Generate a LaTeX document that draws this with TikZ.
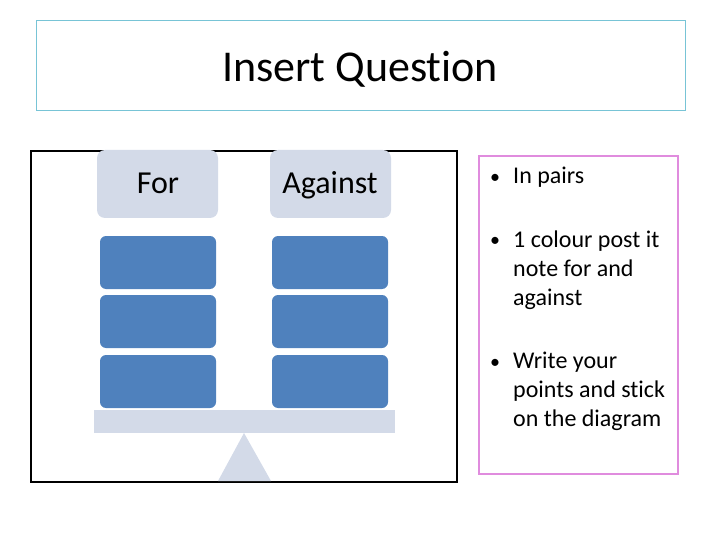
\documentclass[tikz,border=0pt]{standalone}
\usepackage{fontspec}
\setmainfont[Ligatures=NoCommon]{Carlito}
\definecolor{titleline}{RGB}{120,196,214}
\definecolor{panegray}{RGB}{211,218,232}
\definecolor{noteblue}{RGB}{79,129,189}
\definecolor{pinkline}{RGB}{224,140,222}
\tikzset{
  header/.style = {fill = panegray, rounded corners = 8pt},
  note/.style = {fill = noteblue, rounded corners = 6pt},
  point/.style = {anchor = base west, align = left, inner sep = 0pt, font = \fontsize{24}{29}\selectfont},
  dot/.style = {anchor = base west, inner sep = 0pt, font = \fontsize{20}{29}\selectfont}
}
\begin{document}
\begin{tikzpicture}[x = 1pt, y = -1pt]
            \useasboundingbox (0,0) rectangle (720,540);
            % title
            \draw[titleline, line width = 1pt] (36,21) rectangle (685,111);
            \node[anchor = base, inner sep = 0pt] (title) at (360,82) {\fontsize{44}{52}\selectfont Insert Question};
            % the scales
            \draw[line width = 1.8pt] (31,151) rectangle (457,482);
            \fill[header] (97,150) rectangle (218,218);
            \fill[header] (270,150) rectangle (391,218);
            \node[anchor = base, inner sep = 0pt] (for) at (158,194) {\fontsize{32}{38}\selectfont For};
            \node[anchor = base, inner sep = 0pt] (against) at (330,194) {\fontsize{32}{38}\selectfont Against};
            \foreach \y in {236, 295, 355} {
                \fill[note] (100,\y) rectangle (216,\y+53);
                \fill[note] (272,\y) rectangle (388,\y+53);
            }
            \fill[panegray] (94,410) rectangle (395,433);
            \fill[panegray] (244,433) -- (271,481) -- (218,481) -- cycle;
            % instructions (base is the last line)
            \draw[pinkline, line width = 2.5pt] (479,156) rectangle (678,474);
            \node[dot] (dot1) at (490,184) {•};
            \node[point] (pairs) at (513,184) {In pairs};
            \node[dot] (dot2) at (490,247) {•};
            \node[point] (colour) at (513,305) {1 colour post it\\note for and\\against};
            \node[dot] (dot3) at (490,368) {•};
            \node[point] (write) at (513,426) {Write your\\points and stick\\on the diagram};
        \end{tikzpicture}
\end{document}
